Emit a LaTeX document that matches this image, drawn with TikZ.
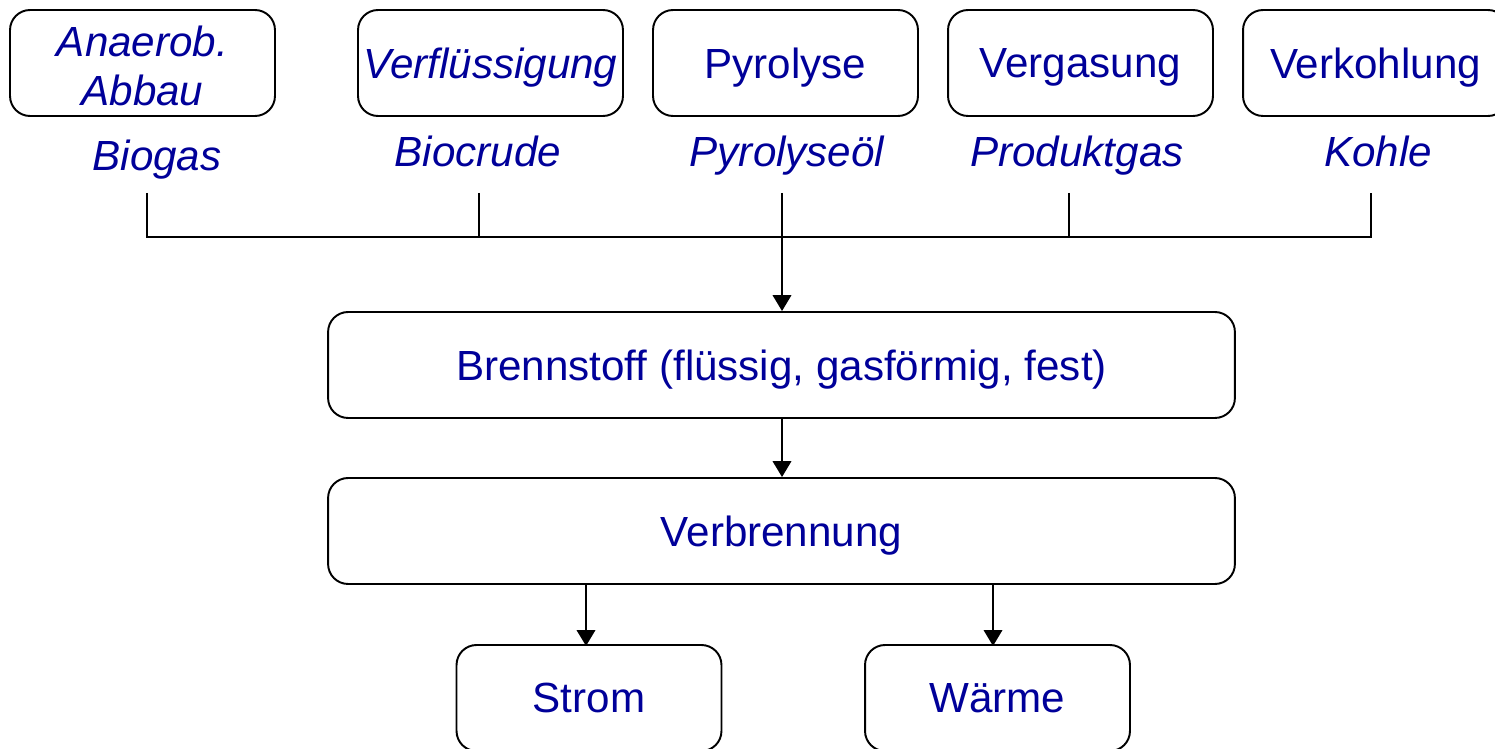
\documentclass[tikz,border=0pt]{standalone}
\usepackage{fontspec}
\setmainfont{Liberation Sans}
\usetikzlibrary{arrows.meta}
\pgfdeclarelayer{edgelayer}
\pgfdeclarelayer{nodelayer}
\pgfsetlayers{edgelayer,nodelayer,main}
\definecolor{txtblue}{RGB}{0,0,153}
\tikzset{font=\fontsize{24}{28.3}\selectfont}
\tikzstyle{none}=[inner sep=0pt]
\tikzstyle{box}=[draw,rounded corners=0.4cm,line width=1.1pt,minimum width=5.3cm,minimum height=2.12cm,text=txtblue,align=center,inner sep=0pt,text depth=0pt]
\tikzstyle{widebox}=[box,minimum width=18.14cm]
\tikzstyle{prod}=[inner sep=0pt,anchor=base,text=txtblue,font=\fontsize{24}{28.3}\selectfont\itshape]
\tikzstyle{flow}=[line width=1.1pt]
\tikzstyle{arr}=[line width=1.1pt,-{Triangle[width=10.5pt,length=9pt]}]

\begin{document}
\begin{tikzpicture}[x=0.02cm,y=-0.02cm]
	\clip (0,0) rectangle (1495,749);
	\begin{pgfonlayer}{nodelayer}
		\node [style=box,text depth=,font=\fontsize{24}{28.3}\selectfont\itshape] (0) at (142.5,63) {};
		\node [style=none,text=txtblue,align=center,font=\fontsize{24}{28.3}\selectfont\itshape] (0a) at (142.5,66) {Anaerob.\\Abbau};
		\node [style=box,font=\fontsize{24}{28.3}\selectfont\itshape] (1) at (490.5,63) {Verflüssigung};
		\node [style=box] (2) at (785.5,63) {Pyrolyse};
		\node [style=box] (3) at (1080.5,63) {Vergasung};
		\node [style=box] (4) at (1375.5,63) {Verkohlung};
		\node [style=prod] (5) at (157,171) {Biogas};
		\node [style=prod] (6) at (478,167) {Biocrude};
		\node [style=prod] (7) at (787,167) {Pyrolyseöl};
		\node [style=prod] (8) at (1077,167) {Produktgas};
		\node [style=prod] (9) at (1378,167) {Kohle};
		\coordinate (10) at (147,193);
		\coordinate (11) at (479,193);
		\coordinate (12) at (782,193);
		\coordinate (13) at (1069,193);
		\coordinate (14) at (1371,193);
		\node [style=widebox] (15) at (781.5,365) {Brennstoff (flüssig, gasförmig, fest)};
		\node [style=widebox] (16) at (781.5,531) {Verbrennung};
		\node [style=box] (17) at (589,698) {Strom};
		\node [style=box] (18) at (997.5,698) {Wärme};
	\end{pgfonlayer}
	\begin{pgfonlayer}{edgelayer}
		\draw [style=flow] (10) -- ++(0,44) -| (14);
		\draw [style=flow] (11) -- ++(0,44);
		\draw [style=flow] (13) -- ++(0,44);
		\draw [style=arr] (12) -- (12 |- 15.north);
		\draw [style=arr] (15.south -| 12) -- (16.north -| 12);
		\draw [style=arr] (16.south -| 17) ++(-3,0) -- ++(0,61);
		\draw [style=arr] (16.south -| 18) ++(-4.5,0) -- ++(0,61);
	\end{pgfonlayer}
\end{tikzpicture}
\end{document}
